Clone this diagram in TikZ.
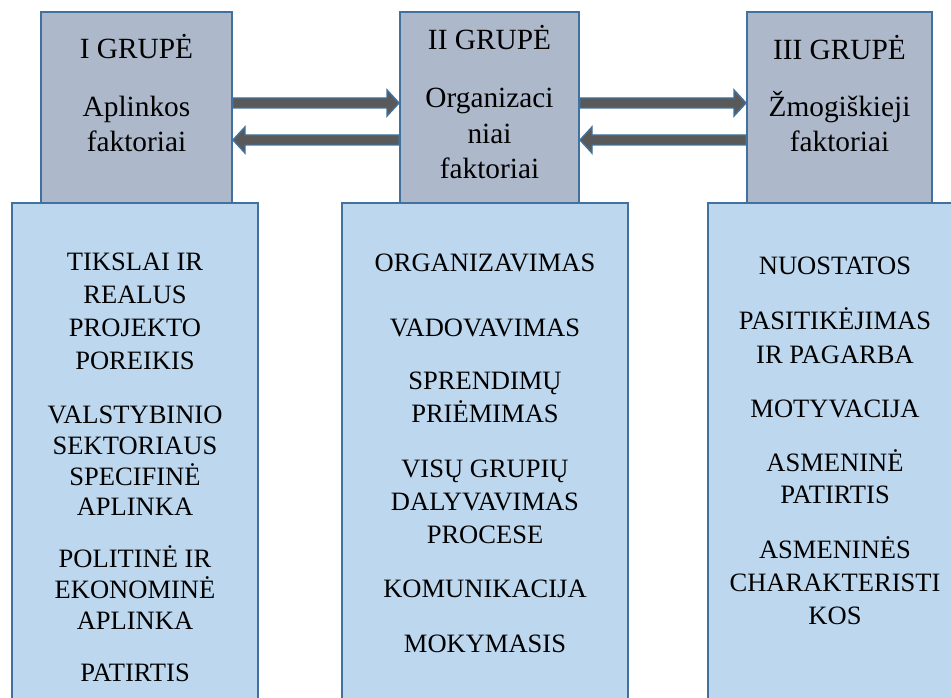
\documentclass[tikz,border=0pt]{standalone}
\usepackage{fontspec}
\setmainfont{Liberation Serif}
\usetikzlibrary{calc,fit}
\definecolor{grayfill}{HTML}{ADB9CA}
\definecolor{bluefill}{HTML}{BDD7EE}
\definecolor{edgeblue}{HTML}{41719C}
\definecolor{arrfill}{HTML}{595959}
\newcommand\myRarrow[3]{%
 \draw[blk] (#1.east |- 0,#3-5) -- ($(#2.west |- 0,#3-5)+(-12,0)$) -- ($(#2.west |- 0,#3-13)+(-12,0)$)
  -- (#2.west |- 0,#3) -- ($(#2.west |- 0,#3+13)+(-12,0)$) -- ($(#2.west |- 0,#3+5)+(-12,0)$)
  -- (#1.east |- 0,#3+5) -- cycle;}
\newcommand\myLarrow[3]{%
 \draw[blk] (#1.west |- 0,#3-5) -- ($(#2.east |- 0,#3-5)+(12,0)$) -- ($(#2.east |- 0,#3-13)+(12,0)$)
  -- (#2.east |- 0,#3) -- ($(#2.east |- 0,#3+13)+(12,0)$) -- ($(#2.east |- 0,#3+5)+(12,0)$)
  -- (#1.west |- 0,#3+5) -- cycle;}
\begin{document}
\begin{tikzpicture}[x=0.75pt,y=-0.75pt,
 grp/.style={draw=edgeblue, fill=grayfill, line width=1.5pt, inner sep=0pt},
 lst/.style={draw=edgeblue, fill=bluefill, line width=1.5pt, inner sep=0pt},
 blk/.style={draw=edgeblue, fill=arrfill, line width=1.1pt, line join=miter},
 ttl/.style={font=\fontsize{22pt}{26pt}\selectfont, anchor=base, inner sep=0pt},
 itm/.style={font=\fontsize{19.9pt}{24pt}\selectfont, anchor=base, inner sep=0pt}]
\useasboundingbox (0,0) rectangle (951,698);
\clip (0,0) rectangle (951,698);
% group boxes
\node[grp, fit={(41,12) (232,203)}] (g1) {};
\node[grp, fit={(400,12) (579,203)}] (g2) {};
\node[grp, fit={(747,12) (932,203)}] (g3) {};
% list boxes
\node[lst, fit={(12,203) (258,712)}] (l1) {};
\node[lst, fit={(342,203) (628,712)}] (l2) {};
\node[lst, fit={(708,203) (962,712)}] (l3) {};
% arrows
\myRarrow{g1}{g2}{103}
\myLarrow{g2}{g1}{140}
\myRarrow{g2}{g3}{103}
\myLarrow{g3}{g2}{140}
% titles
\node[ttl] (h1) at (136.5,59) {I GRUPĖ};
\node[ttl] (h1a) at (136.5,116.7) {Aplinkos};
\node[ttl] (h1b) at (136.5,151.7) {faktoriai};
\node[ttl] (h2) at (489.5,50) {II GRUPĖ};
\node[ttl] (h2a) at (489.5,107.3) {Organizaci};
\node[ttl] (h2b) at (489.5,143.3) {niai};
\node[ttl] (h2c) at (489.5,178.3) {faktoriai};
\node[ttl] (h3) at (839.5,59.3) {III GRUPĖ};
\node[ttl] (h3a) at (839.5,116.7) {Žmogiškieji};
\node[ttl] (h3b) at (839.5,151.7) {faktoriai};
% list items
\foreach \t/\y [count=\i] in {TIKSLAI IR/270.7, REALUS/303.3, PROJEKTO/336.7, POREIKIS/370,
  VALSTYBINIO/423.3, SEKTORIAUS/455, SPECIFINĖ/485.7, APLINKA/515.7,
  POLITINĖ IR/567.3, EKONOMINĖ/599, APLINKA/629.3, PATIRTIS/681.7}
  \node[itm] (a\i) at (135,\y) {\t};
\foreach \t/\y [count=\i] in {ORGANIZAVIMAS/271.7, VADOVAVIMAS/336.7, SPRENDIMŲ/390, PRIĖMIMAS/422.7,
  VISŲ GRUPIŲ/477.3, DALYVAVIMAS/510.7, PROCESE/543.3, KOMUNIKACIJA/597.3, MOKYMASIS/652.7}
  \node[itm] (b\i) at (485,\y) {\t};
\foreach \t/\y [count=\i] in {NUOSTATOS/275, PASITIKĖJIMAS/329.3, IR PAGARBA/363.3, MOTYVACIJA/417.3,
  ASMENINĖ/471.7, PATIRTIS/504, ASMENINĖS/559, CHARAKTERISTI/591.7, KOS/625}
  \node[itm] (c\i) at (835,\y) {\t};
\end{tikzpicture}
\end{document}
